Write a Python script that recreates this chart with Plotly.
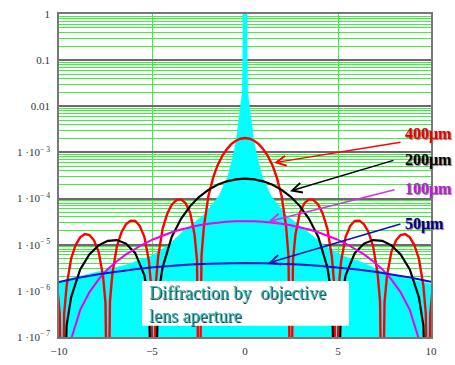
import plotly.graph_objects as go

# Cyan envelope of the central diffraction spike (upper boundary)
spike_x = [-10.0, -7.9, -6.45, -5.0, -4.1, -3.3, -2.2, -1.4, -0.94, -0.67, -0.46, -0.27, -0.16, -0.14,
           -0.12, -0.11, 0.11, 0.12, 0.14, 0.16, 0.27, 0.46, 0.67, 0.94, 1.4, 2.2, 3.3, 4.3, 5.2, 6.4, 7.6, 10.0]
spike_y = [1.6e-6, 2.6e-6, 3.6e-6, 5.8e-6, 9.8e-6, 2.0e-5, 4.4e-5, 1.15e-4, 2.9e-4, 7.6e-4, 1.96e-3, 8.1e-3,
           1.8e-2, 3.8e-2, 0.1, 1.0, 1.0, 0.1, 3.8e-2, 1.8e-2, 8.1e-3, 1.96e-3, 7.6e-4, 2.9e-4, 1.15e-4,
           4.4e-5, 2.0e-5, 9.5e-6, 5.8e-6, 4.0e-6, 2.35e-6, 1.4e-6]

# 400 um aperture profile
r400_x = [-10.09, -9.96, -9.84, -9.72, -9.59, -9.35, -9.10, -8.86, -8.61, -8.36, -8.12, -7.87, -7.63, -7.50,
          -7.38, -7.26, -7.13, -6.89, -6.64, -6.40, -6.15, -5.90, -5.66, -5.41, -5.17, -5.04, -4.92, -4.80,
          -4.67, -4.43, -4.18, -3.94, -3.69, -3.44, -3.20, -2.95, -2.71, -2.58, -2.46, -2.34, -2.21, -1.97,
          -1.72, -1.48, -1.23, -0.98, -0.74, -0.49, -0.25, 0.0,
          0.25, 0.49, 0.74, 0.98, 1.23, 1.48, 1.72, 1.97, 2.21, 2.34, 2.46, 2.58, 2.71, 2.95, 3.20, 3.44,
          3.69, 3.94, 4.18, 4.43, 4.67, 4.80, 4.92, 5.04, 5.17, 5.41, 5.66, 5.90, 6.15, 6.40, 6.64, 6.89,
          7.13, 7.26, 7.38, 7.50, 7.63, 7.87, 8.12, 8.36, 8.61, 8.86, 9.10, 9.35, 9.59, 9.72, 9.84, 9.96, 10.09]
r400_y = [1.18e-6, 3.10e-7, 1e-10, 3.26e-7, 1.30e-6, 4.97e-6, 9.93e-6, 1.450e-5, 1.696e-5, 1.625e-5,
          1.248e-5, 7.01e-6, 2.06e-6, 5.46e-7, 1e-10, 5.84e-7, 2.36e-6, 9.15e-6, 1.865e-5, 2.78e-5, 3.32e-5,
          3.26e-5, 2.57e-5, 1.483e-5, 4.50e-6, 1.21e-6, 1e-10, 1.34e-6, 5.49e-6, 2.21e-5, 4.70e-5, 7.34e-5,
          9.23e-5, 9.59e-5, 8.04e-5, 4.98e-5, 1.639e-5, 4.61e-6, 1e-10, 5.63e-6, 2.45e-5, 1.121e-4, 2.77e-4,
          5.22e-4, 8.31e-4, 1.174e-3, 1.511e-3, 1.794e-3, 1.983e-3, 2.05e-3,
          1.983e-3, 1.794e-3, 1.511e-3, 1.174e-3, 8.31e-4, 5.22e-4, 2.77e-4, 1.121e-4, 2.45e-5, 5.63e-6,
          1e-10, 4.61e-6, 1.639e-5, 4.98e-5, 8.04e-5, 9.59e-5, 9.23e-5, 7.34e-5, 4.70e-5, 2.21e-5, 5.49e-6,
          1.34e-6, 1e-10, 1.21e-6, 4.50e-6, 1.483e-5, 2.57e-5, 3.26e-5, 3.32e-5, 2.78e-5, 1.865e-5, 9.15e-6,
          2.36e-6, 5.84e-7, 1e-10, 5.46e-7, 2.06e-6, 7.01e-6, 1.248e-5, 1.625e-5, 1.696e-5, 1.450e-5,
          9.93e-6, 4.97e-6, 1.30e-6, 3.26e-7, 1e-10, 3.10e-7, 1.18e-6]

# 200 um aperture profile
r200_x = [-10.09, -9.84, -9.59, -9.35, -8.86, -8.36, -7.87, -7.38, -6.89, -6.40, -5.90, -5.41, -5.17, -4.92,
          -4.67, -4.43, -3.94, -3.44, -2.95, -2.46, -1.97, -1.48, -0.98, -0.49, 0.0,
          0.49, 0.98, 1.48, 1.97, 2.46, 2.95, 3.44, 3.94, 4.43, 4.67, 4.92, 5.17, 5.41, 5.90, 6.40, 6.89,
          7.38, 7.87, 8.36, 8.86, 9.35, 9.59, 9.84, 10.09]
r200_y = [1.59e-7, 1e-10, 1.76e-7, 7.24e-7, 2.92e-6, 6.20e-6, 9.67e-6, 1.216e-5, 1.262e-5, 1.059e-5,
          6.56e-6, 2.16e-6, 6.07e-7, 1e-10, 7.42e-7, 3.23e-6, 1.477e-5, 3.65e-5, 6.87e-5, 1.094e-4,
          1.547e-4, 1.989e-4, 2.363e-4, 2.612e-4, 2.70e-4,
          2.612e-4, 2.363e-4, 1.989e-4, 1.547e-4, 1.094e-4, 6.87e-5, 3.65e-5, 1.477e-5, 3.23e-6, 7.42e-7,
          1e-10, 6.07e-7, 2.16e-6, 6.56e-6, 1.059e-5, 1.262e-5, 1.216e-5, 9.67e-6, 6.20e-6, 2.92e-6,
          7.24e-7, 1.76e-7, 1e-10, 1.59e-7]

# 100 um aperture profile
r100_x = [-10.33, -9.84, -9.35, -8.86, -8.36, -7.87, -7.38, -6.89, -6.40, -5.90, -5.41, -4.92, -4.43, -3.94,
          -3.44, -2.95, -2.46, -1.97, -1.48, -0.98, -0.49, 0.0,
          0.49, 0.98, 1.48, 1.97, 2.46, 2.95, 3.44, 3.94, 4.43, 4.92, 5.41, 5.90, 6.40, 6.89, 7.38, 7.87,
          8.36, 8.86, 9.35, 9.84, 10.33]
r100_y = [7.31e-8, 1e-10, 8.93e-8, 3.88e-7, 9.39e-7, 1.778e-6, 2.93e-6, 4.40e-6, 6.19e-6, 8.27e-6, 1.062e-5,
          1.317e-5, 1.586e-5, 1.862e-5, 2.134e-5, 2.395e-5, 2.634e-5, 2.844e-5, 3.016e-5, 3.145e-5,
          3.223e-5, 3.25e-5,
          3.223e-5, 3.145e-5, 3.016e-5, 2.844e-5, 2.634e-5, 2.395e-5, 2.134e-5, 1.862e-5, 1.586e-5,
          1.317e-5, 1.062e-5, 8.27e-6, 6.19e-6, 4.40e-6, 2.93e-6, 1.778e-6, 9.39e-7, 3.88e-7, 8.93e-8,
          1e-10, 7.31e-8]

# 50 um aperture profile
r50_x = [-10.84, -9.85, -8.87, -7.88, -6.90, -5.91, -4.93, -3.94, -2.96, -1.97, -0.99, 0.0,
         0.99, 1.97, 2.96, 3.94, 4.93, 5.91, 6.90, 7.88, 8.87, 9.85, 10.84]
r50_y = [1.307e-6, 1.621e-6, 1.952e-6, 2.291e-6, 2.627e-6, 2.947e-6, 3.242e-6, 3.501e-6, 3.713e-6,
         3.870e-6, 3.967e-6, 4.0e-6,
         3.967e-6, 3.870e-6, 3.713e-6, 3.501e-6, 3.242e-6, 2.947e-6, 2.627e-6, 2.291e-6, 1.952e-6,
         1.621e-6, 1.307e-6]

y_tick_vals = [1e-7, 1e-6, 1e-5, 1e-4, 1e-3, 0.01, 0.1, 1]
y_tick_text = ["1 ·10<sup>− 7</sup>", "1 ·10<sup>− 6</sup>", "1 ·10<sup>− 5</sup>", "1 ·10<sup>− 4</sup>",
               "1 ·10<sup>− 3</sup>", "0.01", "0.1", "1"]
x_tick_vals = [-10, -5, 0, 5, 10]
x_tick_text = ["−10", "−5", "0", "5", "10"]

labels = ["400μm", "200μm", "100μm", "50μm"]
caption = ["Diffraction by  objective", "lens aperture"]

SERIF = "Liberation Serif, Times New Roman, serif"
GREEN = "#3ef03e"
RED = "#ff0000"
BLACK = "#000000"
MAGENTA = "#ee00ee"
BLUE = "#0a14d0"
Y_MIN = 1e-7

fig = go.Figure()
# spike area closed along the bottom edge of the axis
fig.add_trace(go.Scatter(x=[spike_x[0]] + spike_x + [spike_x[-1]],
                         y=[Y_MIN] + spike_y + [Y_MIN], mode="lines", fill="toself",
                         fillcolor="#00ffff", line=dict(color="#00ffff", width=0.5, simplify=False),
                         hoverinfo="skip"))
fig.add_trace(go.Scatter(x=r400_x, y=r400_y, mode="lines", line=dict(color=RED, width=2.4)))
fig.add_trace(go.Scatter(x=r200_x, y=r200_y, mode="lines", line=dict(color=BLACK, width=2.2)))
fig.add_trace(go.Scatter(x=r100_x, y=r100_y, mode="lines", line=dict(color=MAGENTA, width=2)))
fig.add_trace(go.Scatter(x=r50_x, y=r50_y, mode="lines", line=dict(color=BLUE, width=2)))

# label text, label y (log10), arrow tip (x, log10 y), arrow tail (x, log10 y), arrow colour
label_styles = [
    (labels[0], "#e00000", -2.61, (1.56, -3.224), (8.44, -2.772), RED),
    (labels[1], "#000000", -3.16, (2.42, -3.84), (8.06, -3.162), BLACK),
    (labels[2], "#b020d8", -3.80, (1.24, -4.50), (8.12, -3.80), "#d030e8"),
    (labels[3], "#000090", -4.56, (1.24, -5.40), (8.44, -4.54), "#1010b8"),
]
for text, tcolor, ty, tip, tail, acolor in label_styles:
    fig.add_annotation(x=tip[0], y=tip[1], ax=tail[0], ay=tail[1], xref="x", yref="y",
                       axref="x", ayref="y", text="", showarrow=True, arrowhead=5,
                       arrowsize=1.3, arrowwidth=1.5, arrowcolor=acolor)
    fig.add_annotation(x=8.49, y=ty, xref="x", yref="y", text="<b>" + text + "</b>",
                       showarrow=False, xanchor="left", yanchor="middle",
                       font=dict(family=SERIF, size=16, color=tcolor,
                                 shadow="1px 1px 1px #777777"))

# white caption box
fig.add_shape(type="rect", xref="paper", yref="paper", x0=0.2231, x1=0.7796, y0=0.0352, y1=0.173,
              fillcolor="white", line=dict(width=0), layer="above")
fig.add_annotation(x=0.2366, y=0.1, xref="paper", yref="paper", text="<br>".join(caption),
                   showarrow=False, xanchor="left", yanchor="middle", align="left",
                   font=dict(family=SERIF, size=18, color="#1cb8b8",
                             shadow="1px 1px 0px #3a3a3a"))

fig.update_xaxes(range=[-10, 10], tickmode="array", tickvals=x_tick_vals, ticktext=x_tick_text,
                 showgrid=True, gridcolor=GREEN, gridwidth=1, zeroline=False,
                 minor=dict(showgrid=False, ticks=""),
                 showline=True, mirror=True, linecolor="#777777", linewidth=1.5,
                 ticks="", ticklabelstandoff=3,
                 tickfont=dict(family=SERIF, size=11, color="#333333"))
fig.update_yaxes(type="log", range=[-7, 0], tickmode="array", tickvals=y_tick_vals,
                 ticktext=y_tick_text, showgrid=True, gridcolor="#6b6b6b", gridwidth=1.5,
                 minor=dict(showgrid=True, gridcolor=GREEN, gridwidth=1, dtick="D1", ticks=""),
                 zeroline=False, showline=True, mirror=True, linecolor="#777777", linewidth=1.5,
                 ticks="", ticklabelstandoff=5,
                 tickfont=dict(family=SERIF, size=11, color="#333333"))
fig.update_layout(width=455, height=365, margin=dict(l=59, r=24, t=8, b=16),
                  paper_bgcolor="white", plot_bgcolor="white", showlegend=False)

fig.write_html("out.html")
